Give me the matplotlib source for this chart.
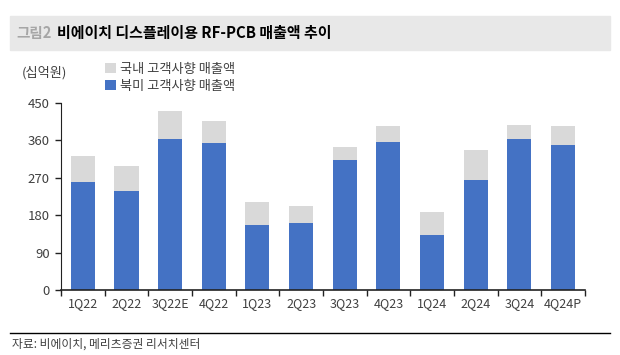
import numpy as np
import matplotlib
matplotlib.use("Agg")
import matplotlib.pyplot as plt
from matplotlib.patches import Rectangle

plt.rcParams["font.family"] = ["Noto Sans CJK KR", "DejaVu Sans"]

# ---- data (십억원) ----
quarters = ["1Q22", "2Q22", "3Q22E", "4Q22", "1Q23", "2Q23",
            "3Q23", "4Q23", "1Q24", "2Q24", "3Q24", "4Q24P"]
na_sales = [259, 237, 363, 353, 156, 160, 311, 355, 133, 265, 363, 347]      # 북미 고객사향
dom_sales = [63, 61, 67, 53, 56, 42, 32, 39, 54, 71, 33, 46]                 # 국내 고객사향
yticks = [0, 90, 180, 270, 360, 450]

BLUE, GRAY = "#4472C4", "#D9D9D9"
TXT = "#404040"

fig = plt.figure(figsize=(6.2, 3.55), dpi=100)
ax = fig.add_axes([0.0984, 0.183, 0.845, 0.528])

x = np.arange(len(quarters))
ax.bar(x, na_sales, width=0.55, color=BLUE, label="북미 고객사향 매출액")
ax.bar(x, dom_sales, bottom=na_sales, width=0.55, color=GRAY, label="국내 고객사향 매출액")

ax.set_xlim(-0.5, len(quarters) - 0.5)
ax.set_ylim(0, 450)
ax.set_yticks(yticks)
ax.set_yticklabels([str(v) for v in yticks], fontsize=9.5, color=TXT)
ax.set_xticks(x)
ax.set_xticklabels(quarters, fontsize=9, color=TXT)
ax.set_xticks(np.arange(len(quarters) + 1) - 0.5, minor=True)
ax.tick_params(axis="x", which="major", length=0, pad=5)
ax.tick_params(axis="x", which="minor", length=4, width=1, color="#222222")
ax.tick_params(axis="y", length=4, width=1, color="#222222", pad=4)
for s in ("top", "right"):
    ax.spines[s].set_visible(False)
ax.spines["left"].set_color("#222222")
ax.spines["bottom"].set_color("#222222")
ax.spines["bottom"].set_linewidth(1.2)

# unit and legend
fig.text(22 / 620, 1 - 73 / 355, "(십억원)", fontsize=9.5, color=TXT, va="center")
h, l = ax.get_legend_handles_labels()
leg = fig.legend(h[::-1], l[::-1], loc="upper left", bbox_to_anchor=(105 / 620, 1 - 63 / 355),
                 frameon=False, fontsize=9.5, handlelength=0.8, handleheight=0.8,
                 handletextpad=0.3, labelspacing=0.3, borderaxespad=0, borderpad=0)
for t in leg.get_texts():
    t.set_color(TXT)

# title band
fig.patches.append(Rectangle((10 / 620, 1 - 50 / 355), 600 / 620, 34 / 355,
                             transform=fig.transFigure, color="#E8E8E8", zorder=0))
fig.text(16 / 620, 1 - 33 / 355, "그림2", fontsize=10.5, color="#A6A6A6", va="center",
         fontweight="bold")
fig.text(57 / 620, 1 - 33 / 355, "비에이치 디스플레이용 RF-PCB 매출액 추이", fontsize=10.8,
         color="black", va="center", fontweight="bold")

# source line
fig.add_artist(plt.Line2D([10 / 620, 610 / 620], [1 - 333 / 355] * 2,
                          transform=fig.transFigure, color="black", lw=1))
fig.text(12 / 620, 1 - 344 / 355, "자료: 비에이치, 메리츠증권 리서치센터", fontsize=8.5,
         color=TXT, va="center")

fig.savefig("out.png", dpi=100)
